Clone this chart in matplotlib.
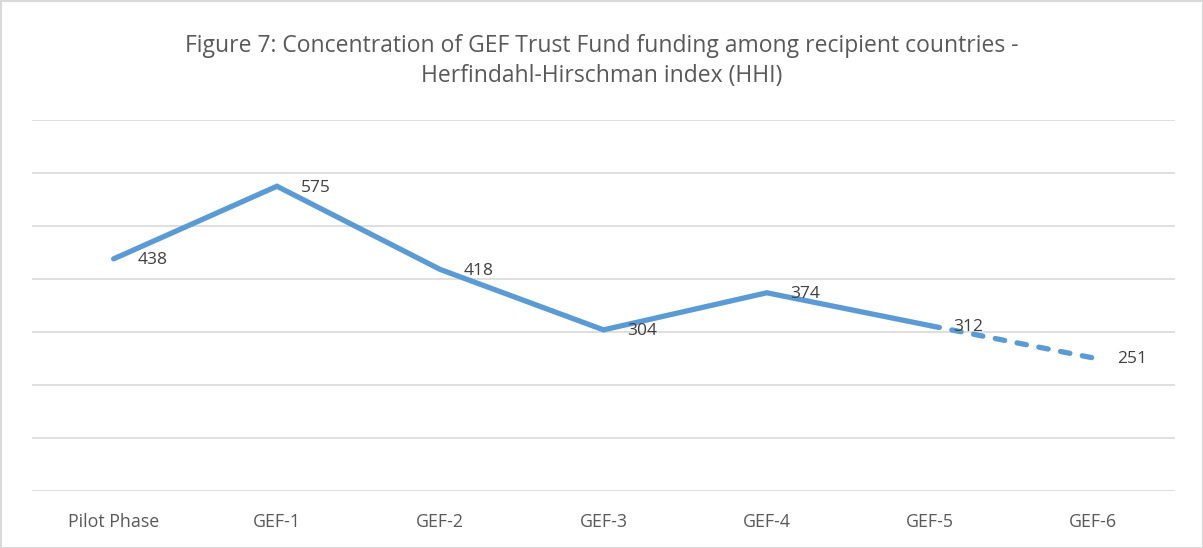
import matplotlib
matplotlib.use("Agg")
import matplotlib.pyplot as plt
from matplotlib.patches import Rectangle

plt.rcParams['font.family'] = ['Open Sans', 'DejaVu Sans']

# 数据
phases = ['Pilot Phase', 'GEF-1', 'GEF-2', 'GEF-3', 'GEF-4', 'GEF-5', 'GEF-6']
hhi = [438, 575, 418, 304, 374, 312, 251]
n_solid = 6  # 前6个为实线, GEF-5 -> GEF-6 为虚线

line_color = '#5B9BD5'
text_color = '#595959'

fig = plt.figure(figsize=(12.03, 5.48), dpi=100)
ax = fig.add_axes([32 / 1203, 1 - 491 / 548, 1143 / 1203, 371 / 548])

x = list(range(len(phases)))
ax.plot(x[:n_solid], hhi[:n_solid], color=line_color, lw=3.8, solid_capstyle='round',
        solid_joinstyle='miter')
ax.plot(x[n_solid - 1:], hhi[n_solid - 1:], color=line_color, lw=3.8,
        linestyle=(0, (1.8, 2.4)), dash_capstyle='round')

# 数据标签
for i, v in enumerate(hhi):
    ax.annotate(str(v), (x[i], v), xytext=(17, -1), textcoords='offset points',
                ha='left', va='center', fontsize=12.5, color='#404040')

ax.set_xlim(-0.5, len(phases) - 0.5)
ax.set_ylim(0, 700)
ax.set_yticks(range(0, 701, 100))
ax.set_yticklabels([])
ax.set_xticks(x)
ax.set_xticklabels(phases, fontsize=12.8, color=text_color)
ax.tick_params(axis='both', length=0)
ax.tick_params(axis='x', pad=16)
ax.grid(axis='y', color='#D9D9D9', lw=1.2)
ax.set_axisbelow(True)
for s in ax.spines.values():
    s.set_visible(False)

fig.text(0.5, 1 - 61 / 548, 'Figure 7: Concentration of GEF Trust Fund funding among recipient countries -\nHerfindahl-Hirschman index (HHI)',
         ha='center', va='center', fontsize=16.5, color=text_color, linespacing=1.3)

fig.patches.append(Rectangle((0.5 / 1203, 0.5 / 548), 1 - 1 / 1203, 1 - 1 / 548,
                             transform=fig.transFigure, fill=False, ec='#D9D9D9', lw=1.5))

fig.savefig('out.png', dpi=100)
